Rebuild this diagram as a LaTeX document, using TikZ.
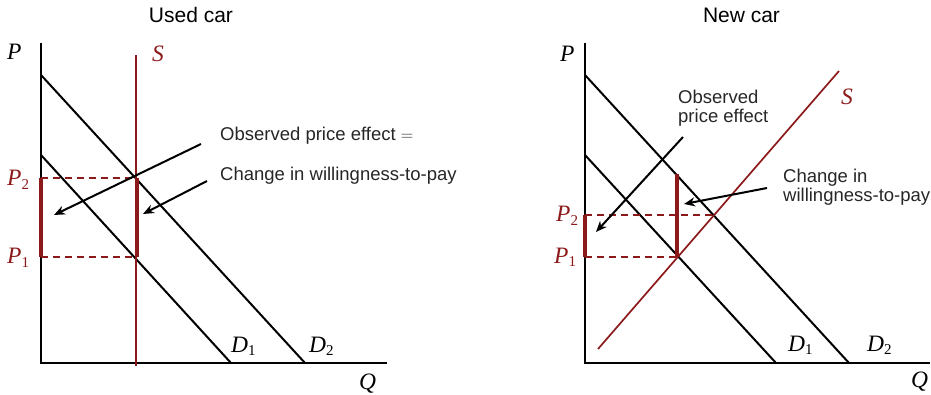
\documentclass[tikz,border=0pt]{standalone}
\usepackage{fontspec}
\setmainfont{Liberation Sans}
\newfontfamily\tms{Liberation Serif}
\usetikzlibrary{arrows.meta}
\definecolor{myred}{RGB}{140,26,26}
\newcommand\mlab[1]{{\tms\itshape #1}}
\newcommand\mlsub[2]{{\tms\itshape #1}\raisebox{-0.3ex}{\tms\fontsize{15}{15}\selectfont #2}}
\begin{document}
\begin{tikzpicture}[x=1pt,y=-1pt,
  axis/.style={line width=2.2pt,black},
  demand/.style={line width=2pt,black},
  supply/.style={line width=1.7pt,myred},
  guide/.style={line width=2pt,myred,dash pattern=on 7pt off 5pt},
  bar/.style={line width=4pt,myred},
  callout/.style={line width=2pt,black,-{Stealth[length=11pt,width=9pt]}},
  title/.style={font=\fontsize{21}{25}\selectfont,anchor=base,inner sep=0pt},
  note/.style={font=\fontsize{18.5}{19}\selectfont,inner sep=0pt,text=black!85},
  mathlab/.style={font=\fontsize{23.5}{25}\selectfont,anchor=base west,inner sep=0pt},
  redlab/.style={mathlab,text=myred}]
\useasboundingbox (0,0) rectangle (931,395);

% ---------- Left panel: Used car ----------
\node[title] (t1) at (191,23) {Used car};
\coordinate (Ltop) at (41,43);
\coordinate (Lo) at (41,363);
\coordinate (Lr) at (387,363);
\draw[axis] (Ltop) -- (Lo) -- (Lr);
\coordinate (LD2a) at (41,75);  \coordinate (LD2b) at (305,363);
\coordinate (LD1a) at (41,155); \coordinate (LD1b) at (231,363);
\draw[demand] (LD2a) -- (LD2b);
\draw[demand] (LD1a) -- (LD1b);
\coordinate (LSa) at (136,55); \coordinate (LSb) at (136,366);
\draw[supply] (LSa) -- (LSb);
\coordinate (LP2) at (41,178); \coordinate (LE2) at (136,178);
\coordinate (LP1) at (41,257); \coordinate (LE1) at (136,257);
\draw[guide] (LP2) -- (LE2);
\draw[guide] (LP1) -- (LE1);
\draw[bar] ([xshift=-0.5pt]LP2) -- ([xshift=-0.5pt]LP1);
\draw[bar] ([xshift=0.5pt]LE2) -- ([xshift=0.5pt]LE1);
\node[mathlab] (lP) at (7,60) {\mlab{P}};
\node[mathlab] (lQ) at (359,389) {\mlab{Q}};
\node[redlab] (lS) at (152,62) {\mlab{S}};
\node[redlab] (lP2) at (7,186) {\mlsub{P}{2}};
\node[redlab] (lP1) at (7,264) {\mlsub{P}{1}};
\node[mathlab] (lD1) at (231,352) {\mlsub{D}{1}};
\node[mathlab] (lD2) at (309,352) {\mlsub{D}{2}};
\node[note,anchor=base west] (lobs) at (220,141) {Observed price effect $=$};
\node[note,anchor=base west] (lchg) at (220,181) {Change in willingness-to-pay};
\coordinate (la1s) at (201,144); \coordinate (la1e) at (54,215);
\coordinate (la2s) at (207,181); \coordinate (la2e) at (143,214);
\draw[callout] (la1s) -- (la1e);
\draw[callout] (la2s) -- (la2e);

% ---------- Right panel: New car ----------
\node[title] (t2) at (741.5,23) {New car};
\coordinate (Rtop) at (585,43);
\coordinate (Ro) at (585,363);
\coordinate (Rr) at (930,363);
\draw[axis] (Rtop) -- (Ro) -- (Rr);
\coordinate (RD2a) at (585,75);  \coordinate (RD2b) at (849,363);
\coordinate (RD1a) at (585,155); \coordinate (RD1b) at (776,363);
\draw[demand] (RD2a) -- (RD2b);
\draw[demand] (RD1a) -- (RD1b);
\coordinate (RSa) at (598,349); \coordinate (RSb) at (839,71);
\draw[supply] (RSa) -- (RSb);
\coordinate (RP2) at (585,215); \coordinate (RE2) at (715,215);
\coordinate (RP1) at (585,257); \coordinate (RE1) at (677,257);
\coordinate (RW) at (677,174);
\draw[guide] (RP2) -- (RE2);
\draw[guide] (RP1) -- (RE1);
\draw[bar] (RW) -- (RE1);
\draw[bar] (RP2) -- (RP1);
\node[mathlab] (rP) at (560,62) {\mlab{P}};
\node[mathlab] (rQ) at (911,387) {\mlab{Q}};
\node[redlab] (rS) at (841,105) {\mlab{S}};
\node[redlab] (rP2) at (556,222) {\mlsub{P}{2}};
\node[redlab] (rP1) at (554,263) {\mlsub{P}{1}};
\node[mathlab] (rD1) at (788,351) {\mlsub{D}{1}};
\node[mathlab] (rD2) at (867,351) {\mlsub{D}{2}};
\node[note,anchor=north west,align=left] (robs) at (678,89.5) {Observed\\price effect};
\node[note,anchor=north west,align=left] (rchg) at (783,168.5) {Change in\\willingness-to-pay};
\coordinate (ra1s) at (683,137); \coordinate (ra1e) at (596,232);
\coordinate (ra2s) at (767,188); \coordinate (ra2e) at (684,204);
\draw[callout] (ra1s) -- (ra1e);
\draw[callout] (ra2s) -- (ra2e);
\end{tikzpicture}
\end{document}
